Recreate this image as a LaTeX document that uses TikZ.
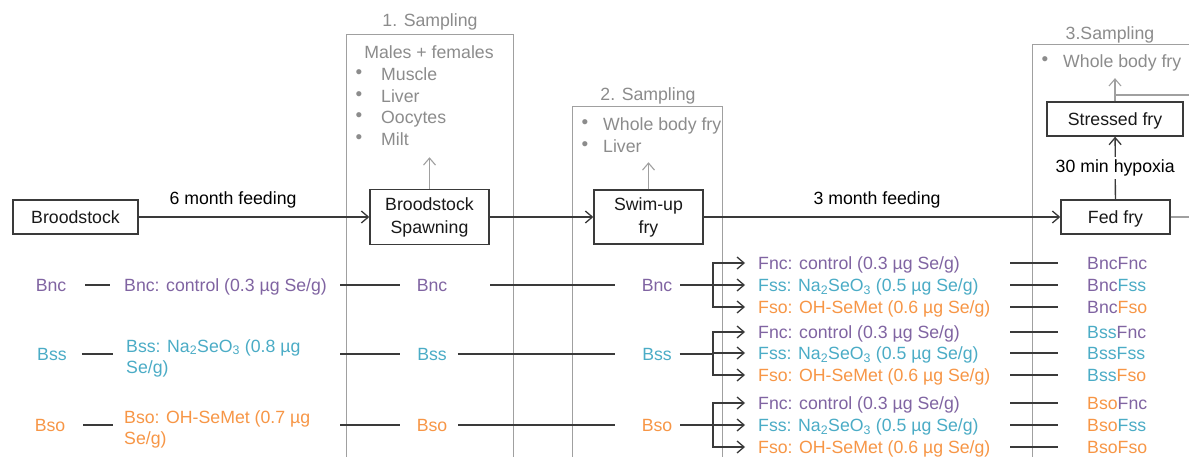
\documentclass[tikz,border=0pt]{standalone}
\usepackage{fontspec}
\setmainfont{Liberation Sans}
\usetikzlibrary{arrows.meta}
\definecolor{cpur}{HTML}{8064A2}
\definecolor{ccya}{HTML}{4BACC6}
\definecolor{cora}{HTML}{F79646}
\definecolor{gtxt}{HTML}{8C8C8C}
\definecolor{gline}{HTML}{A0A0A0}
\definecolor{dline}{HTML}{3A3A3A}
\begin{document}
\begin{tikzpicture}[x=1pt,y=-1pt,
  font=\fontsize{17.7}{22}\selectfont,
  >={Straight Barb[length=7pt,width=12pt]},
  tx/.style={inner sep=0pt,text height=12.7pt,text depth=0pt},
  box/.style={draw=dline,line width=1.4pt,inner sep=0pt,align=center,text=black!90},
  sbox/.style={box,text height=12.7pt,text depth=0pt},
  samp/.style={draw=gline,line width=1pt},
  gt/.style={tx,text=gtxt},
  bul/.style={inner sep=0pt,text=gtxt,font=\fontsize{19}{19}\selectfont},
  conn/.style={draw=dline,line width=1.3pt},
  gconn/.style={draw=gline,line width=1.1pt},
  two/.style={inner sep=0pt,align=left,anchor=north west,font=\fontsize{17.7}{21}\selectfont}]
\useasboundingbox (0,0) rectangle (1189,457);
\fill[white] (0,0) rectangle (1189,457);

% sampling boxes
\draw[samp] (346,35) rectangle (513,470);
\draw[samp] (572,107) rectangle (722,470);
\draw[samp] (1032,45) rectangle (1200,470);
\node[gt] (t1) at (430,20) {1. Sampling};
\node[gt] (t2) at (648,94) {2. Sampling};
\node[gt] (t3) at (1110,33) {3.Sampling};

% box 1 content
\node[gt] (mf) at (429,52) {Males + females};
\node[bul] (b11) at (359,74) {•};
\node[bul] (b12) at (359,96) {•};
\node[bul] (b13) at (359,117) {•};
\node[bul] (b14) at (359,139) {•};
\node[gt,anchor=west] (m1) at (381,74) {Muscle};
\node[gt,anchor=west] (m2) at (381,96) {Liver};
\node[gt,anchor=west] (m3) at (381,117) {Oocytes};
\node[gt,anchor=west] (m4) at (381,139) {Milt};

% box 2 content
\node[bul] (b21) at (585,124) {•};
\node[bul] (b22) at (585,146) {•};
\node[gt,anchor=west] (w2) at (603,124) {Whole body fry};
\node[gt,anchor=west] (lv2) at (603,146) {Liver};

% box 3 content
\node[bul] (b31) at (1045,61) {•};
\node[gt,anchor=west] (w3) at (1063,61) {Whole body fry};

% main flow
\node[sbox,minimum width=125pt,minimum height=34pt] (brood) at (75.5,217) {Broodstock};
\node[box,minimum width=119pt,minimum height=55pt,font=\fontsize{17.7}{23}\selectfont] (spawn) at (429.5,217) {Broodstock\\Spawning};
\node[box,minimum width=109pt,minimum height=54pt,font=\fontsize{17.7}{23}\selectfont] (swim) at (648.5,217) {Swim-up\\fry};
\node[sbox,minimum width=109pt,minimum height=34pt] (fed) at (1115.5,217) {Fed fry};
\node[sbox,minimum width=136pt,minimum height=34pt] (stress) at (1115,119) {Stressed fry};

\node[tx] (l6) at (233,198) {6 month feeding};
\node[tx] (l3) at (877,198) {3 month feeding};

\draw[conn,->] (brood) -- (spawn);
\draw[conn,->] (spawn) -- (swim);
\draw[conn,->] (swim) -- (fed);
\draw[conn,->] (fed) -- (stress) node[midway,fill=white,inner sep=3pt,text height=12.7pt,text depth=3pt] (hyp) {30 min hypoxia};
\coordinate (fedR) at (1195,217);
\draw[gconn] (fed) -- (fedR);

\draw[gconn,->,shorten >=11.7pt] (spawn.north) -- (spawn.north |- m4.south);
\draw[gconn,->,shorten >=9.7pt] (swim.north) -- (swim.north |- lv2.south);
\draw[gconn,->,shorten >=10.6pt] (stress.north) -- (stress.north |- w3.south);
\coordinate (gh1) at (1115,95);
\coordinate (gh2) at (1195,95);
\draw[gconn] (gh1) -- (gh2);

% ---- Bnc row
\node[tx,text=cpur] (bncA) at (51,285) {Bnc};
\node[tx,text=cpur,anchor=west] (bncB) at (124,285) {Bnc: control (0.3 µg Se/g)};
\node[tx,text=cpur] (bncC) at (432,285) {Bnc};
\node[tx,text=cpur] (bncD) at (657,285) {Bnc};
\coordinate (bncJ) at (713,285);
% ---- Bss row
\node[tx,text=ccya] (bssA) at (52,354) {Bss};
\node[two,text=ccya] (bssB) at (126,339) {Bss: Na\textsubscript{2}SeO\textsubscript{3} (0.8 µg\\Se/g)};
\node[tx,text=ccya] (bssC) at (432,354) {Bss};
\node[tx,text=ccya] (bssD) at (657,354) {Bss};
\coordinate (bssS) at (340,354);
\coordinate (bssJ) at (713,354);
% ---- Bso row
\node[tx,text=cora] (bsoA) at (50,425) {Bso};
\node[two,text=cora] (bsoB) at (124,410) {Bso: OH-SeMet (0.7 µg\\Se/g)};
\node[tx,text=cora] (bsoC) at (432,425) {Bso};
\node[tx,text=cora] (bsoD) at (657,425) {Bso};
\coordinate (bsoS) at (340,425);
\coordinate (bsoJ) at (713,425);

\draw[conn,shorten <=18.7pt,shorten >=14pt] (bncA.east) -- (bncB.west);
\draw[conn,shorten <=13pt,shorten >=16.7pt] (bncB.east) -- (bncC.west);
\draw[conn,shorten <=42.7pt,shorten >=26.7pt] (bncC.east) -- (bncD.west);
\draw[conn,shorten <=7.7pt] (bncD.east) -- (bncJ);

\draw[conn,shorten <=15pt,shorten >=13pt] (bssA.east) -- (bssA.east -| bssB.west);
\draw[conn,shorten >=17pt] (bssS) -- (bssC.west);
\draw[conn,shorten <=11pt,shorten >=27pt] (bssC.east) -- (bssD.west);
\draw[conn,shorten <=7.7pt] (bssD.east) -- (bssJ);

\draw[conn,shorten <=18pt,shorten >=11pt] (bsoA.east) -- (bsoA.east -| bsoB.west);
\draw[conn,shorten >=17pt] (bsoS) -- (bsoC.west);
\draw[conn,shorten <=11pt,shorten >=27pt] (bsoC.east) -- (bsoD.west);
\draw[conn,shorten <=7.7pt] (bsoD.east) -- (bsoJ);

% F diets
\foreach \g/\ya/\yb/\yc in {1/263/285/307, 2/332/353/375, 3/403/425/447}{
  \node[tx,text=cpur,anchor=west] (f\g1) at (758,\ya) {Fnc: control (0.3 µg Se/g)};
  \node[tx,text=ccya,anchor=west] (f\g2) at (758,\yb) {Fss: Na\textsubscript{2}SeO\textsubscript{3} (0.5 µg Se/g)};
  \node[tx,text=cora,anchor=west] (f\g3) at (758,\yc) {Fso: OH-SeMet (0.6 µg Se/g)};
  \coordinate (r\g1) at (1010,\ya);
  \coordinate (r\g2) at (1010,\yb);
  \coordinate (r\g3) at (1010,\yc);
}
\foreach \j/\g in {bncJ/1, bssJ/2, bsoJ/3}{
  \draw[conn,->,shorten >=13pt] (\j) |- (f\g1.west);
  \draw[conn,->,shorten >=13pt] (\j) |- (f\g2.west);
  \draw[conn,->,shorten >=13pt] (\j) |- (f\g3.west);
}

% group labels
\node[tx,anchor=west] (l11) at (1087,263) {\color{cpur}Bnc\color{cpur}Fnc};
\node[tx,anchor=west] (l12) at (1087,285) {\color{cpur}Bnc\color{ccya}Fss};
\node[tx,anchor=west] (l13) at (1087,307) {\color{cpur}Bnc\color{cora}Fso};
\node[tx,anchor=west] (l21) at (1087,332) {\color{ccya}Bss\color{cpur}Fnc};
\node[tx,anchor=west] (l22) at (1087,353) {\color{ccya}Bss\color{ccya}Fss};
\node[tx,anchor=west] (l23) at (1087,375) {\color{ccya}Bss\color{cora}Fso};
\node[tx,anchor=west] (l31) at (1087,403) {\color{cora}Bso\color{cpur}Fnc};
\node[tx,anchor=west] (l32) at (1087,425) {\color{cora}Bso\color{ccya}Fss};
\node[tx,anchor=west] (l33) at (1087,447) {\color{cora}Bso\color{cora}Fso};
\foreach \k in {11,12,13,21,22,23,31,32,33}{
  \draw[conn,shorten >=29pt] (r\k) -- (l\k.west);
}
\end{tikzpicture}
\end{document}
